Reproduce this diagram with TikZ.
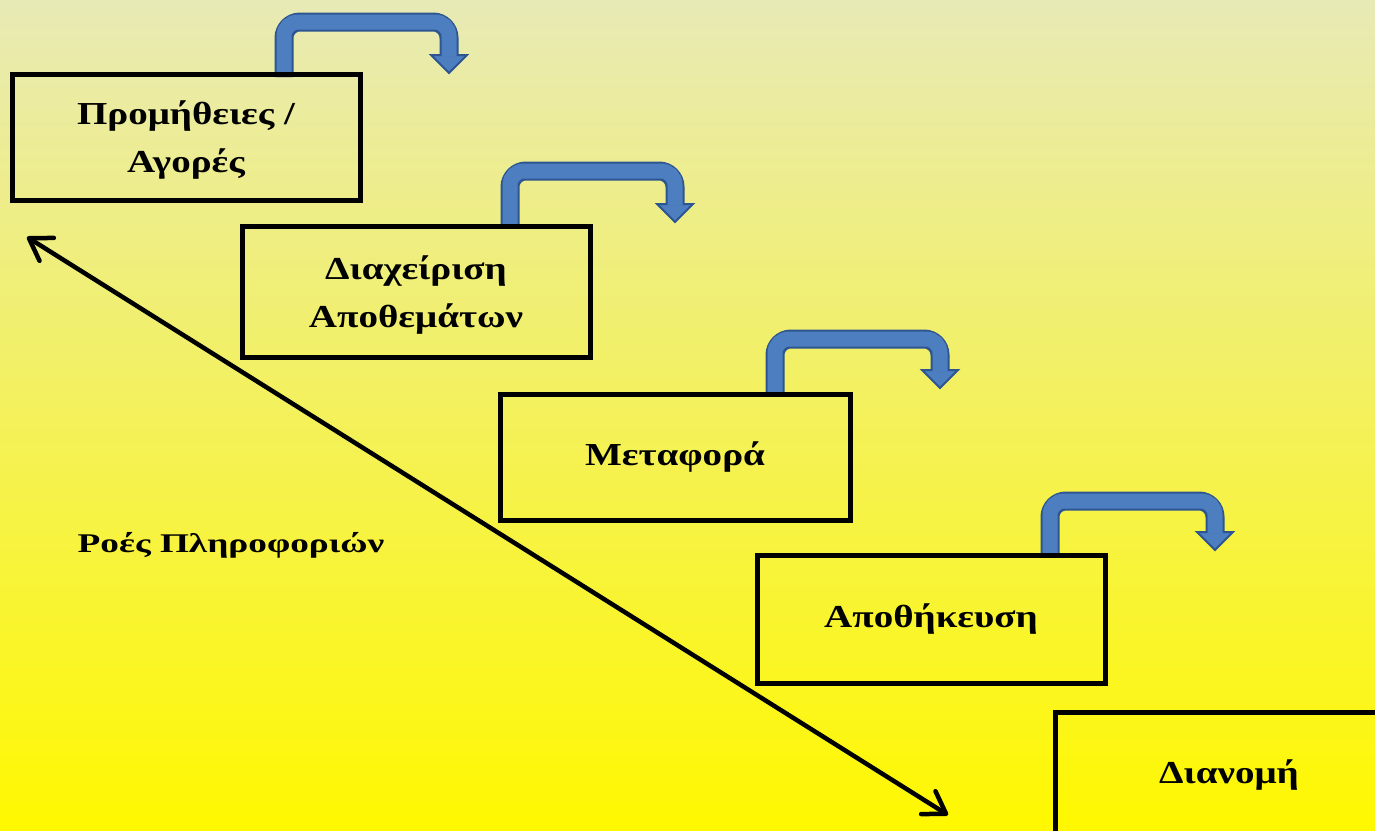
\documentclass[tikz,border=0pt]{standalone}
\usepackage{fontspec}
\setmainfont{Liberation Serif}
\newfontfamily\boxfont[FakeStretch=1.22]{Liberation Serif}
\newfontfamily\flowfont[FakeStretch=1.38]{Liberation Serif}
\usetikzlibrary{arrows.meta}
\definecolor{bgtop}{RGB}{232,234,182}
\definecolor{bgmid}{RGB}{242,241,105}
\definecolor{bgbot}{RGB}{255,248,0}
\definecolor{arrblue}{RGB}{76,126,192}
\definecolor{arredge}{RGB}{45,85,145}
\tikzset{
  stepbox/.style={draw=black, line width=5pt, minimum width=348pt, minimum height=126pt,
    inner sep=0pt, align=center, font=\boxfont\fontsize{32}{48}\selectfont\bfseries},
  flowlabel/.style={font=\flowfont\fontsize{27}{30}\selectfont\bfseries},
  bentout/.style={line width=19pt, draw=arredge, rounded corners=16pt},
  bentin/.style={line width=15pt, draw=arrblue, rounded corners=14pt},
  benthead/.style={fill=arrblue, draw=arredge, line width=2pt, line join=miter},
  diag/.style={line width=4.5pt, line cap=round,
    {Straight Barb[length=21pt,width=27pt,line join=round,line cap=round]}-{Straight Barb[length=21pt,width=27pt,line join=round,line cap=round]}}
}
\begin{document}
\begin{tikzpicture}[x=1pt,y=-1pt]
\useasboundingbox (0,0) rectangle (1375,830);
\shade[top color=bgtop, middle color=bgmid, bottom color=bgbot] (0,0) rectangle (1375,830);

% bent arrows: stem x, top y, right x, head start y, box top y
\foreach \x/\t/\r/\h/\bt in {284/22/449/55/77, 510/171/675/204/226, 775/339/940/370/394, 1050/501/1215/532/555}{
  \draw[bentout] (\x,\bt) -- (\x,\t) -- (\r,\t) -- (\r,\h);
  \filldraw[benthead] (\r-18,\h) -- (\r+18,\h) -- (\r,\h+18) -- cycle;
  \draw[bentin] (\x,\bt) -- (\x,\t) -- (\r,\t) -- (\r,\h+1.5);
}

\node[stepbox, text depth=0pt] (b1) at (186,137) {Προμήθειες /\\Αγορές};
\node[stepbox, text depth=0pt, minimum height=131pt] (b2) at (416,291.5) {Διαχείριση\\Αποθεμάτων};
\node[stepbox, minimum width=350pt] (b3) at (675,457) {Μεταφορά};
\node[stepbox, minimum height=128pt] (b4) at (931,619) {Αποθήκευση};
\node[stepbox] (b5) at (1229,775) {Διανομή};

\coordinate (d1) at (27,237);
\coordinate (d2) at (948,815);
\draw[diag] (d1) -- (d2);

\node[flowlabel] (flow) at (231,545) {Ροές Πληροφοριών};
\end{tikzpicture}
\end{document}
